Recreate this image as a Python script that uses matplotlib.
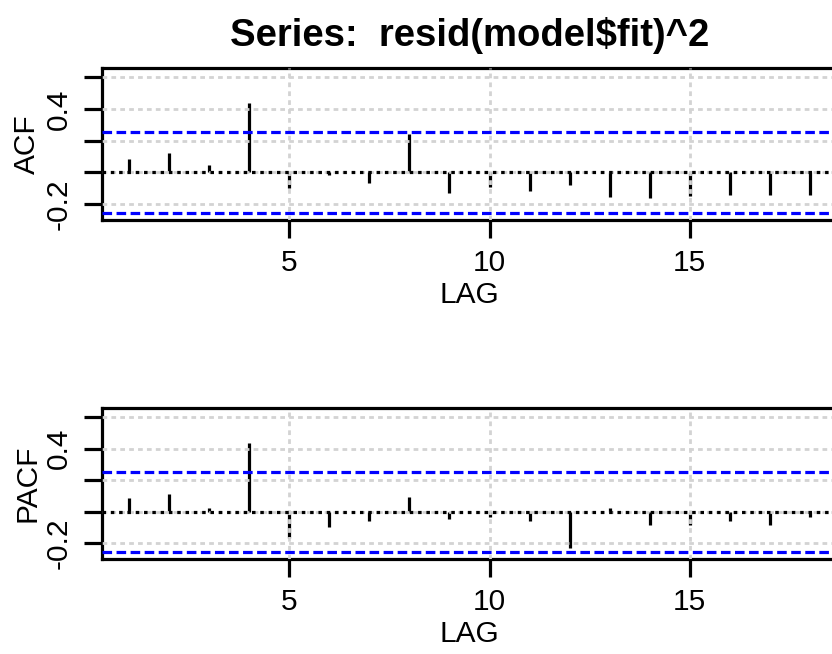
import numpy as np
import matplotlib
matplotlib.use('Agg')
import matplotlib.pyplot as plt

plt.rcParams.update({
    'font.family': 'Liberation Sans',
    'font.size': 21,
})

lags = np.arange(1, 19)
acf_vals = [0.085, 0.123, 0.047, 0.44, -0.10, -0.02, -0.066, 0.243, -0.129,
            -0.09, -0.116, -0.080, -0.154, -0.161, -0.15, -0.144, -0.144, -0.144]
pacf_vals = [0.088, 0.113, 0.024, 0.434, -0.17, -0.096, -0.06, 0.092, -0.047,
             -0.035, -0.06, -0.23, 0.02, -0.085, -0.085, -0.06, -0.085, -0.035]
ci = 0.255
yticks = [-0.2, 0.0, 0.2, 0.4, 0.6]
ytick_labels = ['-0.2', '', '', '0.4', '']
xticks = [5, 10, 15]
title = 'Series:  resid(model$fit)^2'

W, H = 832, 654
fig = plt.figure(figsize=(W / 100, H / 100), dpi=100)

left = 102 / W
width = (837 - 102) / W
panels = [
    ('ACF', acf_vals, 220, 152),
    ('PACF', pacf_vals, 559, 151),
]

for name, vals, bottom_px, height_px in panels:
    ax = fig.add_axes([left, 1 - bottom_px / H, width, height_px / H])
    ax.vlines(lags, 0, vals, color='black', linewidth=2.3, zorder=1)
    ax.set_axisbelow(False)
    ax.grid(True, color='#d3d3d3', linewidth=2.0, linestyle=(0, (1.7, 1.5)))
    ax.axhline(0, color='black', linewidth=2.3, linestyle=(0, (1.1, 1.5)), zorder=3)
    for c in (ci, -ci):
        ax.axhline(c, color='#0000ff', linewidth=2.3, linestyle=(0, (3.0, 1.4)), zorder=3)

    ax.set_xlim(0.32, 18.68)
    ax.set_ylim(-0.302, 0.66)
    ax.set_xticks(xticks)
    ax.set_yticks(yticks)
    ax.set_yticklabels(ytick_labels, rotation=90, va='center')
    ax.tick_params(length=13, width=2.3, pad=8, labelsize=21.5)
    for sp in ax.spines.values():
        sp.set_linewidth(2.3)

    ax.set_ylabel(name, fontsize=21.5)
    ax.yaxis.set_label_coords(-0.102, 0.5)
    ax.yaxis.label.set_va('center')
    ax.set_xlabel('LAG', fontsize=21.5)
    ax.xaxis.set_label_coords(0.5, -75 / height_px)
    ax.xaxis.label.set_va('center')

fig.text(470 / W, 1 - 35 / H, title, ha='center', va='center',
         fontsize=27.5, fontweight='bold')

fig.savefig('out.png', dpi=100)
